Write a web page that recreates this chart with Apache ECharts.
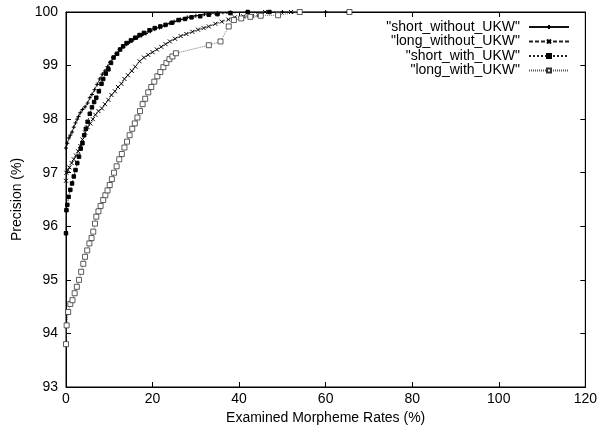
<!DOCTYPE html>
<html>
<head>
<meta charset="utf-8">
<title>Precision vs examined morpheme rates</title>
<script src="https://cdn.jsdelivr.net/npm/echarts@6/dist/echarts.min.js"></script>
<style>
  html, body { margin: 0; padding: 0; background: #fff; }
  #main { width: 600px; height: 432px; }
</style>
</head>
<body>
<div id="main"></div>
<script>
// series names as in the gnuplot key
const seriesNames = ['"short_without_UKW"', '"long_without_UKW"', '"short_with_UKW"', '"long_with_UKW"']

const xTicks = [0, 20, 40, 60, 80, 100, 120]
const yTicks = [93, 94, 95, 96, 97, 98, 99, 100]

// [examined rate %, precision %]
const shortWithoutUKW = [
  [0, 97.46], [0.3, 97.55], [0.7, 97.65], [1.0, 97.7], [1.4, 97.76], [1.8, 97.85], [2.2, 97.93],
  [2.6, 98.0], [2.9, 98.05], [3.3, 98.12], [3.8, 98.18], [4.4, 98.23], [5.0, 98.3], [5.5, 98.4],
  [6.0, 98.46], [6.6, 98.55], [7.2, 98.65], [7.8, 98.75], [8.4, 98.84], [9.0, 98.9], [9.6, 98.98],
  [10.2, 99.06], [10.9, 99.15], [11.6, 99.22], [12.4, 99.3], [13.2, 99.35], [14.0, 99.4],
  [14.7, 99.44], [15.5, 99.48], [16.5, 99.52], [17.5, 99.56], [18.5, 99.6], [19.5, 99.64],
  [20.5, 99.68], [21.6, 99.71], [22.8, 99.75], [24, 99.79], [25, 99.82], [26.5, 99.86],
  [28, 99.9], [30, 99.93], [32, 99.96], [35, 99.98], [38, 99.99], [42, 100], [50, 100],
  [60, 100], [65, 100]
]

const longWithoutUKW = [
  [0, 96.85], [0.1, 97.0], [0.4, 97.05], [0.8, 97.1], [1.3, 97.18], [1.8, 97.25], [2.3, 97.32],
  [2.8, 97.4], [3.3, 97.5], [3.8, 97.62], [4.4, 97.75], [5.0, 97.85], [5.6, 97.92], [6.2, 98.0],
  [6.8, 98.08], [7.5, 98.15], [8.3, 98.2], [9.0, 98.28], [9.8, 98.36], [10.5, 98.45],
  [11.3, 98.52], [12.0, 98.6], [12.8, 98.66], [13.5, 98.75], [14.3, 98.82], [15.2, 98.9],
  [16.0, 98.98], [17.0, 99.08], [18.0, 99.15], [19.0, 99.2], [20.0, 99.25], [21.0, 99.3],
  [22.0, 99.35], [23.0, 99.4], [24.0, 99.45], [25.2, 99.5], [26.5, 99.55], [27.8, 99.59],
  [29.2, 99.63], [30.5, 99.67], [31.8, 99.7], [33, 99.73], [34.5, 99.78], [36, 99.82],
  [37.5, 99.86], [39, 99.9], [41, 99.92], [43, 99.93], [44.5, 99.94], [46, 100], [52, 100]
]

const shortWithUKW = [
  [0, 95.87], [0.1, 96.3], [0.3, 96.4], [0.6, 96.55], [1.0, 96.68], [1.4, 96.8], [1.8, 96.93],
  [2.2, 97.05], [2.6, 97.18], [3.0, 97.3], [3.4, 97.45], [3.8, 97.55], [4.2, 97.7], [4.6, 97.82],
  [5.0, 97.95], [5.5, 98.1], [6.0, 98.22], [6.5, 98.32], [7.0, 98.4], [7.6, 98.52], [8.2, 98.66],
  [8.6, 98.75], [9.2, 98.85], [9.8, 98.93], [10.4, 99.05], [11.0, 99.15], [11.8, 99.22],
  [12.5, 99.3], [13.2, 99.36], [14, 99.42], [15, 99.47], [16, 99.52], [17, 99.57], [18, 99.61],
  [19.3, 99.66], [20.5, 99.7], [21.8, 99.73], [23, 99.76], [24.5, 99.8], [26, 99.85],
  [27.5, 99.87], [29, 99.9], [31, 99.92], [33, 99.95], [35, 99.96], [38, 99.98], [42, 100],
  [47, 100]
]

const longWithUKW = [
  [0, 93.8], [0.15, 94.15], [0.5, 94.4], [1.0, 94.55], [1.5, 94.62], [2.0, 94.75], [2.5, 94.87],
  [3.0, 95.0], [3.5, 95.15], [4.0, 95.3], [4.4, 95.43], [4.9, 95.55], [5.4, 95.68], [5.9, 95.78],
  [6.3, 95.9], [6.7, 96.05], [7.0, 96.18], [7.5, 96.28], [8.0, 96.38], [8.6, 96.49], [9.1, 96.58],
  [9.6, 96.67], [10.1, 96.77], [10.6, 96.88], [11.1, 97.0], [11.7, 97.12], [12.3, 97.25],
  [12.9, 97.35], [13.5, 97.47], [14.1, 97.58], [14.7, 97.7], [15.3, 97.82], [15.9, 97.92],
  [16.5, 98.03], [17.1, 98.15], [17.7, 98.28], [18.3, 98.38], [19.0, 98.5], [19.7, 98.6],
  [20.4, 98.7], [21.1, 98.8], [21.8, 98.88], [22.5, 98.97], [23.2, 99.05], [23.9, 99.12],
  [24.6, 99.17], [25.4, 99.23], [33, 99.38], [35.7, 99.45], [37.6, 99.73], [38.8, 99.85],
  [40.5, 99.88], [42.6, 99.91], [45, 99.93], [49, 99.94], [54, 100], [65.5, 100]
]

const FONT = '"Liberation Sans", Arial, sans-serif'
const PLUS = 'path://M0,5L10,5M5,0L5,10'
const CROSS = 'path://M0,0L10,10M10,0L0,10'

const chart = echarts.init(document.getElementById('main'), null, { renderer: 'canvas' })

// gnuplot puts inward ticks on all four sides
function axisBase(ticks, extra) {
  return Object.assign({
    type: 'value',
    min: ticks[0],
    max: ticks[ticks.length - 1],
    interval: ticks[1] - ticks[0],
    splitLine: { show: false },
    axisLine: { show: true, onZero: false, lineStyle: { color: '#000', width: 1 } },
    axisTick: { show: true, inside: true, length: 5, lineStyle: { color: '#000' } },
    axisLabel: { color: '#000', fontFamily: FONT, fontSize: 14 }
  }, extra)
}

function lineSeries(name, data, symbol, size, dash, color, fill, stroke, strokeWidth) {
  return {
    name: name,
    type: 'line',
    xAxisIndex: 0,
    yAxisIndex: 0,
    data: data,
    symbol: symbol,
    symbolSize: size,
    showAllSymbol: true,
    lineStyle: { color: color, width: 0.8, type: dash },
    itemStyle: { color: fill, borderColor: stroke, borderWidth: strokeWidth },
    emphasis: { disabled: true },
    z: 3
  }
}

const option = {
  animation: false,
  backgroundColor: '#fff',
  grid: { left: 66, right: 11, top: 12, bottom: 45, show: true, borderColor: '#000', borderWidth: 1 },
  legend: {
    orient: 'vertical',
    right: 25,
    top: 15,
    align: 'right',
    itemWidth: 40,
    itemHeight: 5,
    itemGap: 0.5,
    selectedMode: false,
    textStyle: { color: '#000', fontFamily: FONT, fontSize: 14, padding: [0, 4, 0, 0] },
    data: seriesNames
  },
  xAxis: [
    axisBase(xTicks, {
      position: 'bottom',
      name: 'Examined Morpheme Rates (%)',
      nameLocation: 'middle',
      nameGap: 21,
      nameTextStyle: { color: '#000', fontFamily: FONT, fontSize: 14 },
      axisLabel: { color: '#000', fontFamily: FONT, fontSize: 14, margin: 5 }
    }),
    axisBase(xTicks, { position: 'top', axisLabel: { show: false } })
  ],
  yAxis: [
    axisBase(yTicks, {
      position: 'left',
      name: 'Precision (%)',
      nameLocation: 'middle',
      nameGap: 40,
      nameTextStyle: { color: '#000', fontFamily: FONT, fontSize: 14 },
      axisLabel: { color: '#000', fontFamily: FONT, fontSize: 14, margin: 8 }
    }),
    axisBase(yTicks, { position: 'right', axisLabel: { show: false } })
  ],
  series: [
    lineSeries(seriesNames[0], shortWithoutUKW, PLUS, 4, 'solid', '#111', '#000', '#000', 1),
    lineSeries(seriesNames[1], longWithoutUKW, CROSS, 4, [4, 2], '#222', '#000', '#000', 1),
    lineSeries(seriesNames[2], shortWithUKW, 'rect', 3.5, [2, 2], '#222', '#000', '#000', 1),
    // open squares: white fill, thin grey outline
    lineSeries(seriesNames[3], longWithUKW, 'rect', 5, [1, 1], '#555', '#fff', '#333', 0.8)
  ]
}

chart.setOption(option)
</script>
</body>
</html>
